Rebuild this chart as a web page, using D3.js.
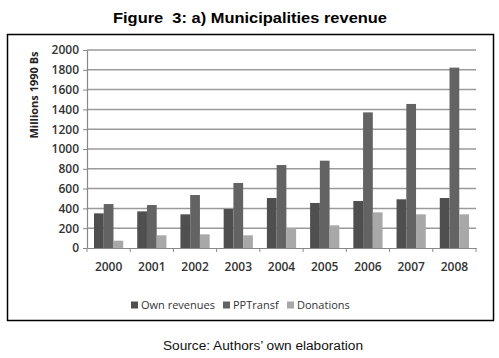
<!DOCTYPE html>
<html lang="en">
<head>
    <meta charset="UTF-8">
    <title>Municipalities revenue</title>
    <script src="https://cdn.jsdelivr.net/npm/d3@7"></script>
    <style>
        body { margin: 0; background: #fff; }
        svg { display: block; }
    </style>
</head>
<body>
    <div id="chart-space"></div>

    <script>
        // data
        var years = ["2000", "2001", "2002", "2003", "2004", "2005", "2006", "2007", "2008"];
        var ownRevenues = [350, 370, 340, 394, 505, 455, 475, 492, 505];
        var ppTransf = [444, 434, 535, 657, 838, 882, 1370, 1455, 1822];
        var donations = [74, 128, 138, 128, 202, 229, 360, 340, 340];
        var seriesNames = ["Own revenues", "PPTransf", "Donations"];
        var yTicks = [0, 200, 400, 600, 800, 1000, 1200, 1400, 1600, 1800, 2000];

        var colors = ["#4f4f4f", "#636363", "#a8a8a8"];

        var width = 499;
        var height = 358;
        var margin = {top: 50, right: 23, bottom: 110, left: 87};
        var chartWidth = width - margin.left - margin.right;
        var chartHeight = 248 - margin.top;

        var series = [ownRevenues, ppTransf, donations];
        var data = years.map(function(y, i) {
            return {year: y, values: series.map(function(s) { return s[i]; })};
        });

        var svg = d3.select("#chart-space")
            .append("svg")
            .attr("width", width)
            .attr("height", height);

        svg.append("text")
            .attr("x", 250)
            .attr("y", 23)
            .attr("text-anchor", "middle")
            .style("font-family", "'Liberation Sans', sans-serif")
            .style("font-weight", "bold")
            .style("font-size", "15px")
            .style("white-space", "pre")
            .attr("textLength", 274)
            .attr("lengthAdjust", "spacingAndGlyphs")
            .text("Figure  3: a) Municipalities revenue");

        // outer frame
        svg.append("rect")
            .attr("x", 7.5)
            .attr("y", 34.5)
            .attr("width", 486)
            .attr("height", 286)
            .attr("fill", "none")
            .attr("stroke", "#000")
            .attr("stroke-width", 1.5);

        var g = svg.append("g")
            .attr("transform", "translate(" + margin.left + "," + margin.top + ")");

        var xScale = d3.scaleBand()
            .domain(years)
            .range([0, chartWidth]);

        var xInner = d3.scaleBand()
            .domain(d3.range(3))
            .range([7, xScale.bandwidth() - 7]);

        var yScale = d3.scaleLinear()
            .domain([0, 2000])
            .range([chartHeight, 0]);

        // gridlines
        g.selectAll(".grid")
            .data(yTicks.slice(1))
            .join("line")
            .attr("class", "grid")
            .attr("x1", 0)
            .attr("x2", chartWidth)
            .attr("y1", function(d) { return yScale(d); })
            .attr("y2", function(d) { return yScale(d); })
            .attr("stroke", "#9a9a9a")
            .attr("stroke-width", 1.5);

        var groups = g.selectAll(".year")
            .data(data)
            .join("g")
            .attr("class", "year")
            .attr("transform", function(d) { return "translate(" + xScale(d.year) + ",0)"; });

        groups.selectAll("rect")
            .data(function(d) { return d.values; })
            .join("rect")
            .attr("x", function(d, i) { return xInner(i); })
            .attr("width", xInner.bandwidth())
            .attr("y", function(d) { return yScale(d); })
            .attr("height", function(d) { return chartHeight - yScale(d); })
            .attr("fill", function(d, i) { return colors[i]; });

        // y axis
        var yAxis = g.append("g")
            .call(d3.axisLeft(yScale).tickValues(yTicks).tickFormat(d3.format("d"))
                .tickSize(4).tickPadding(4).tickSizeOuter(0));
        yAxis.select(".domain").attr("stroke", "#888").attr("stroke-width", 1.2);
        yAxis.selectAll(".tick line").attr("stroke", "#888");
        yAxis.selectAll("text")
            .style("font-family", "'Open Sans', sans-serif")
            .style("font-size", "12px")
            .style("font-weight", "600")
            .attr("fill", "#333");

        // x axis
        var xAxis = g.append("g")
            .attr("transform", "translate(0," + chartHeight + ")")
            .call(d3.axisBottom(xScale).tickSize(0).tickPadding(14));
        xAxis.select(".domain").attr("stroke", "#888").attr("stroke-width", 1.2);
        xAxis.selectAll("text")
            .style("font-family", "'Open Sans', sans-serif")
            .style("font-size", "12px")
            .style("font-weight", "600")
            .attr("fill", "#333");

        // x tick marks between categories
        g.selectAll(".xtick")
            .data(years.concat(["end"]))
            .join("line")
            .attr("class", "xtick")
            .attr("x1", function(d, i) { return i * xScale.bandwidth(); })
            .attr("x2", function(d, i) { return i * xScale.bandwidth(); })
            .attr("y1", chartHeight)
            .attr("y2", chartHeight + 4)
            .attr("stroke", "#888");

        // y axis title
        svg.append("text")
            .attr("transform", "translate(38,95) rotate(-90)")
            .attr("text-anchor", "middle")
            .style("font-family", "'Open Sans', sans-serif")
            .style("font-size", "11px")
            .style("font-weight", "bold")
            .attr("fill", "#222")
            .text("Millions 1990 Bs");

        // legend
        var legendX = [131, 223, 287];
        var legend = svg.selectAll(".legend")
            .data(seriesNames)
            .join("g")
            .attr("class", "legend")
            .attr("transform", function(d, i) { return "translate(" + legendX[i] + ",305)"; });
        legend.append("rect")
            .attr("x", 0)
            .attr("y", -3.5)
            .attr("width", 7)
            .attr("height", 7)
            .attr("fill", function(d, i) { return colors[i]; });
        legend.append("text")
            .attr("x", 10)
            .attr("y", 4)
            .style("font-family", "'Open Sans', sans-serif")
            .style("font-size", "11px")
            .attr("fill", "#333")
            .text(function(d) { return d; });

        svg.append("text")
            .attr("x", 263)
            .attr("y", 350)
            .attr("text-anchor", "middle")
            .style("font-family", "'Liberation Sans', sans-serif")
            .style("font-size", "12px")
            .attr("textLength", 200)
            .attr("lengthAdjust", "spacingAndGlyphs")
            .attr("fill", "#111")
            .text("Source: Authors\u2019 own elaboration");
    </script>
</body>
</html>
